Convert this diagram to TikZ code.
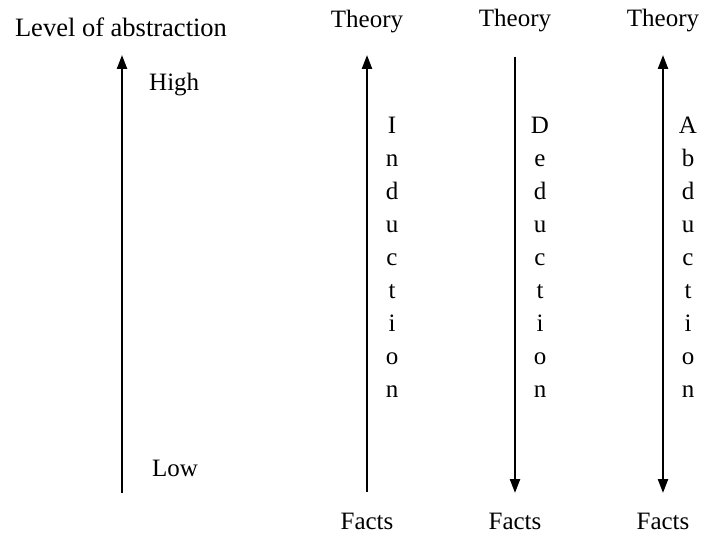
\documentclass[tikz,border=0pt]{standalone}
\usepackage{fontspec}
\setmainfont{Liberation Serif}
\usetikzlibrary{arrows.meta}
\begin{document}
\begin{tikzpicture}[x=1pt,y=-1pt,
  lbl/.style={font=\fontsize{25}{28}\selectfont, inner sep=0pt, anchor=base},
  axis/.style={line width=2.3pt, -{Triangle[width=10pt,length=14pt]}},
  axis2/.style={line width=2.3pt, {Triangle[width=10pt,length=14pt]}-{Triangle[width=10pt,length=14pt]}}]
\useasboundingbox (0,0) rectangle (702,535);
% labels
\node[lbl,font=\fontsize{26.5}{30}\selectfont] (lev) at (121,37) {Level of abstraction};
\node[lbl,anchor=base west] (high) at (149,91) {High};
\node[lbl,anchor=base west] (low) at (152,476) {Low};
\node[lbl] (t1) at (367,28) {Theory};
\node[lbl] (t2) at (515,27) {Theory};
\node[lbl] (t3) at (663,27) {Theory};
\node[lbl] (f1) at (367,529) {Facts};
\node[lbl] (f2) at (515,529) {Facts};
\node[lbl] (f3) at (663,529) {Facts};
% anchor coordinates for arrows
\coordinate (a0b) at (122,493); \coordinate (a0t) at (122,55);
\coordinate (a1b) at (367,492); \coordinate (a1t) at (367,55);
\coordinate (a2t) at (515,57);  \coordinate (a2b) at (515,493);
\coordinate (a3t) at (663,55);  \coordinate (a3b) at (663,493);
\draw[axis] (a0b) -- (a0t);
\draw[axis] (a1b) -- (a1t);
\draw[axis] (a2t) -- (a2b);
\draw[axis2] (a3t) -- (a3b);
% vertical words
\foreach \l [count=\i] in {I,n,d,u,c,t,i,o,n}
  \node[lbl] (ind\i) at (392,{133+(\i-1)*33}) {\l};
\foreach \l [count=\i] in {D,e,d,u,c,t,i,o,n}
  \node[lbl] (ded\i) at (540,{133+(\i-1)*33}) {\l};
\foreach \l [count=\i] in {A,b,d,u,c,t,i,o,n}
  \node[lbl] (abd\i) at (688,{133+(\i-1)*33}) {\l};
\end{tikzpicture}
\end{document}
